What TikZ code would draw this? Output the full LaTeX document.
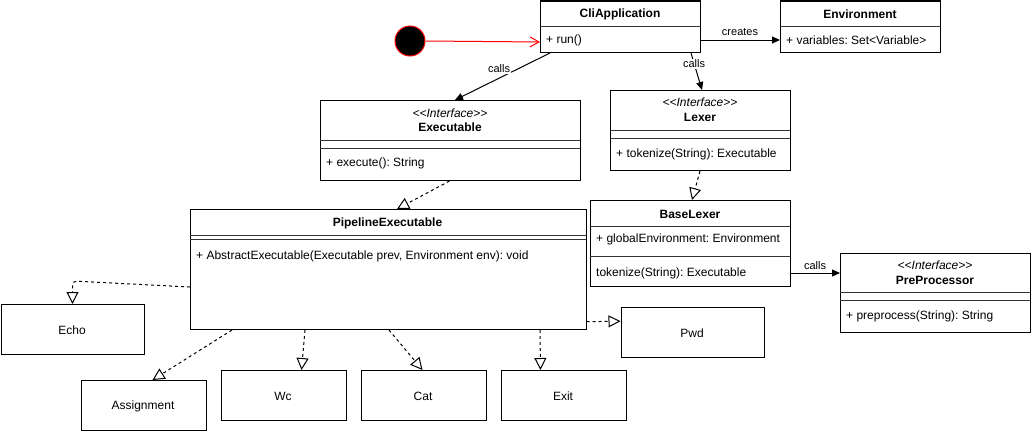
\documentclass[tikz,border=0pt]{standalone}
\usepackage{fontspec}
\setmainfont{Liberation Sans}
\usetikzlibrary{arrows.meta}
\newcommand\fsbig{\fontsize{12}{14}\selectfont}
\newcommand\fssmall{\fontsize{11}{13}\selectfont}
\frenchspacing
\begin{document}
\begin{tikzpicture}[x=1pt,y=-1pt,
  box/.style={draw=black,line width=1pt,inner sep=0pt,anchor=north west,fill=white},
  div/.style={draw=black!80,line width=1pt},
  txt/.style={inner sep=0pt,font=\fsbig},
  nm/.style={txt,font=\fsbig\bfseries},
  st/.style={txt,font=\fsbig\itshape},
  mem/.style={txt,anchor=west},
  elbl/.style={inner sep=1pt,font=\fssmall,fill=white},
  callarr/.style={draw=black,line width=1pt,-{Triangle[length=8pt,width=7pt]}},
  realarr/.style={draw=black,line width=1pt,dash pattern=on 3pt off 3pt,-{Triangle[length=12pt,width=12pt,fill=white]}},
  startarr/.style={draw=red,line width=1pt,-{Straight Barb[length=9pt,width=10pt]}}
]
\useasboundingbox (0,0) rectangle (1031,431);

% start state
\node[circle,draw=red,fill=black,line width=1pt,minimum size=30pt,inner sep=0pt] (start) at (410,41) {};

% CliApplication
\node[box,minimum width=160pt,minimum height=51.5pt] (cli) at (540,0.5) {};
\draw[div] (540,26) -- (700,26);
\node[nm] (clin) at (620,14) {CliApplication};
\node[mem] (clim) at (546,40) {+ run()};

% Environment
\node[box,minimum width=160pt,minimum height=51.5pt] (env) at (780,0.5) {};
\draw[div] (780,26) -- (940,26);
\node[nm] (envn) at (860,14) {Environment};
\node[mem] (envm) at (786,40) {+ variables: Set<Variable>};

% Executable
\node[box,minimum width=260pt,minimum height=80pt] (exe) at (320,100) {};
\draw[div] (320,140) -- (580,140);
\draw[div] (320,148) -- (580,148);
\node[st] (exes) at (450,113) {<{}<Interface>{}>};
\node[nm] (exen) at (450,127.5) {Executable};
\node[mem] (exem) at (326,163) {+ execute(): String};

% Lexer
\node[box,minimum width=180pt,minimum height=80pt] (lex) at (610,90) {};
\draw[div] (610,130) -- (790,130);
\node[st] (lexs) at (700,102.5) {<{}<Interface>{}>};
\node[nm] (lexn) at (700,117.5) {Lexer};
\draw[div] (610,138) -- (790,138);
\node[mem] (lexm) at (616,154) {+ tokenize(String): Executable};

% BaseLexer
\node[box,minimum width=200pt,minimum height=86pt] (blex) at (590,200) {};
\draw[div] (590,226.5) -- (790,226.5);
\draw[div] (590,256.5) -- (790,256.5);
\node[nm] (blexn) at (690,214) {BaseLexer};
\node[mem] (blexa) at (596,239.5) {+ globalEnvironment: Environment};
\node[mem] (blexm) at (596,273.5) {tokenize(String): Executable};

% PreProcessor
\node[box,minimum width=190pt,minimum height=79.5pt] (pre) at (840,252.5) {};
\draw[div] (840,292.5) -- (1030,292.5);
\draw[div] (840,300.5) -- (1030,300.5);
\node[st] (pres) at (935,265.5) {<{}<Interface>{}>};
\node[nm] (pren) at (935,280.5) {PreProcessor};
\node[mem] (prem) at (846,316) {+ preprocess(String): String};

% PipelineExecutable
\node[box,minimum width=395.5pt,minimum height=120pt] (pipe) at (190,209) {};
\draw[div] (190,235) -- (585.5,235);
\draw[div] (190,239.5) -- (585.5,239.5);
\node[nm] (pipen) at (387.5,223.5) {PipelineExecutable};
\node[mem] (pipem) at (196,256.5) {+ AbstractExecutable(Executable prev, Environment env): void};

% simple classes
\node[box,minimum width=143pt,minimum height=50pt] (echo) at (0.5,304) {};
\node[txt] (echot) at (72,330) {Echo};
\node[box,minimum width=125pt,minimum height=50pt] (assign) at (80.5,380) {};
\node[txt] (assignt) at (143,406.5) {Assignment};
\node[box,minimum width=125pt,minimum height=50pt] (wc) at (220.5,370) {};
\node[txt] (wct) at (283,396.5) {Wc};
\node[box,minimum width=125pt,minimum height=50pt] (cat) at (360.5,370) {};
\node[txt] (catt) at (423,396.5) {Cat};
\node[box,minimum width=125pt,minimum height=50pt] (exit) at (500.5,370) {};
\node[txt] (exitt) at (563,396.5) {Exit};
\node[box,minimum width=143pt,minimum height=50pt] (pwd) at (620.5,307) {};
\node[txt] (pwdt) at (692,333) {Pwd};

% connectors
\draw[startarr] (start.east) -- ([yshift=11pt]cli.south west);
\draw[callarr] ([yshift=13pt]cli.south east) -- ([yshift=13pt]env.south west);
\node[elbl] (lcreates) at (740,32) {creates};
\draw[callarr] ([xshift=10pt]cli.south west) -- ([xshift=135pt]exe.north west);
\node[elbl] (lcalls1) at (499,69) {calls};
\draw[callarr] ([xshift=151pt]cli.south west) -- ([xshift=92pt]lex.north west);
\node[elbl] (lcalls2) at (694,64) {calls};
\draw[callarr] ([yshift=14pt]blex.south east) -- ([yshift=60pt]pre.south west);
\node[elbl,fill=none] (lcalls3) at (815,266) {calls};

\draw[realarr] ([xshift=129.5pt]exe.south west) -- ([xshift=207pt]pipe.north west);
\draw[realarr] ([xshift=90pt]lex.south west) -- ([xshift=102pt]blex.north west);
\draw[realarr,rounded corners=4pt] ([yshift=43pt]pipe.south west) -- ([yshift=23pt]echo.north) -- (echo.north);
\draw[realarr] ([xshift=42pt]pipe.south west) -- ([xshift=72pt]assign.north west);
\draw[realarr] ([xshift=115pt]pipe.south west) -- ([xshift=81pt]wc.north west);
\draw[realarr] ([xshift=199pt]pipe.south west) -- ([xshift=62pt]cat.north west);
\draw[realarr] ([xshift=350pt]pipe.south west) -- ([xshift=40pt]exit.north west);
\draw[realarr] ([yshift=8.3pt]pipe.south east) -- ([yshift=11.3pt]pwd.west);
\end{tikzpicture}
\end{document}
